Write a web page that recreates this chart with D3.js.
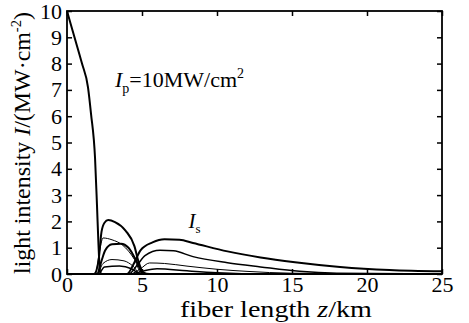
<!DOCTYPE html>
<html>
<head>
<meta charset="UTF-8">
<title>light intensity vs fiber length</title>
<script src="https://cdn.jsdelivr.net/npm/d3@7"></script>
<style>
	body { margin: 0; padding: 0; background: #fff; }
	text { font-family: "Times New Roman", "Liberation Serif", Times, serif; fill: #000; }
</style>
</head>
<body>
<script>
	// values: [z in km, intensity in MW/cm2]
	var xTicks = [0, 5, 10, 15, 20, 25],
		yTicks = [0, 1, 2, 3, 4, 5, 6, 7, 8, 9, 10];

	var pump = [[0,10],[0.5,9.0],[1.0,8.0],[1.4,7.1],[1.6,6.1],[1.87,4.4],[2.0,2.6],[2.1,1.1],[2.2,0.1],[2.3,0],[25,0]];

	// first order stokes, rising near 2 km
	var s1a = [[0,0],[1.8,0],[2.1,0.5],[2.3,1.6],[2.5,1.95],[2.75,2.05],[3.2,1.97],[3.9,1.65],[4.5,1.05],[4.75,0.5],[5.1,0.05],[5.5,0],[25,0]];
	var s1b = [[0,0],[1.9,0],[2.15,0.8],[2.4,1.37],[3.0,1.3],[3.7,1.1],[4.5,0.55],[5.0,0],[25,0]];
	var s1c = [[0,0],[2.0,0],[2.3,0.5],[2.55,0.9],[3.0,1.13],[3.6,1.15],[4.1,1.0],[4.65,0.47],[5.1,0],[25,0]];
	var s1d = [[0,0],[2.0,0],[2.4,0.4],[3.0,0.55],[3.8,0.5],[4.4,0.3],[4.9,0],[25,0]];
	var s1e = [[0,0],[2.1,0],[2.5,0.27],[3.5,0.3],[4.3,0.2],[4.9,0],[25,0]];

	// second order stokes, rising near 4.5 km
	var s2a = [[0,0],[4.0,0],[4.5,0.45],[4.9,0.9],[5.7,1.2],[6.5,1.32],[7.5,1.3],[8.4,1.18],[10.7,0.86],[12.9,0.63],[15.2,0.45],[18.2,0.27],[21.5,0.15],[25,0.1]];
	var s2b = [[0,0],[4.1,0],[4.7,0.35],[5.2,0.7],[6.2,0.9],[7.1,0.88],[8.4,0.66],[10.7,0.43],[12.9,0.27],[15.5,0.1],[18,0.03],[25,0]];
	var s2c = [[0,0],[4.2,0],[4.9,0.2],[5.5,0.42],[6.5,0.4],[8,0.3],[10,0.18],[12,0.1],[15,0.03],[25,0]];
	var s2d = [[0,0],[4.3,0],[5,0.1],[6,0.2],[8,0.12],[10,0.05],[13,0],[25,0]];

	var w = 469, h = 323;
	var plotL = 67, plotR = 442, plotT = 11, plotB = 274;

	var x = d3.scaleLinear().domain([0, 25]).range([plotL, plotR]);
	var y = d3.scaleLinear().domain([0, 10]).range([plotB, plotT]);

	var svg = d3.select("body").append("svg")
		.attr("width", w)
		.attr("height", h);

	svg.append("rect").attr("width", w).attr("height", h).attr("fill", "#fff");

	var line = d3.line()
		.x(function(d) { return x(d[0]); })
		.y(function(d) { return y(d[1]); })
		.curve(d3.curveMonotoneX);

	var curves = [
		{ d: pump, sw: 2 },
		{ d: s1a, sw: 2 },
		{ d: s1b, sw: 1 },
		{ d: s1c, sw: 2 },
		{ d: s1d, sw: 1 },
		{ d: s1e, sw: 1.5 },
		{ d: s2a, sw: 2 },
		{ d: s2b, sw: 1.5 },
		{ d: s2c, sw: 1 },
		{ d: s2d, sw: 1.5 }
	];

	svg.selectAll("path.curve")
		.data(curves)
		.enter().append("path")
		.attr("class", "curve")
		.attr("d", function(c) { return line(c.d); })
		.attr("fill", "none")
		.attr("stroke", "#000")
		.attr("stroke-width", function(c) { return c.sw; });

	// axes with inward ticks, matlab style box
	var gx = svg.append("g")
		.attr("transform", "translate(0," + plotB + ")")
		.call(d3.axisBottom(x).tickValues(xTicks).tickSize(-5).tickPadding(2).tickFormat(d3.format("d")));
	var gxt = svg.append("g")
		.attr("transform", "translate(0," + plotT + ")")
		.call(d3.axisTop(x).tickValues(xTicks).tickSize(-5).tickFormat(""));
	var gy = svg.append("g")
		.attr("transform", "translate(" + plotL + ",0)")
		.call(d3.axisLeft(y).tickValues(yTicks).tickSize(-5).tickPadding(5).tickFormat(d3.format("d")));
	var gyr = svg.append("g")
		.attr("transform", "translate(" + plotR + ",0)")
		.call(d3.axisRight(y).tickValues(yTicks).tickSize(-5).tickFormat(""));

	[gx, gxt, gy, gyr].forEach(function(g) {
		g.attr("font-family", null).attr("font-size", 22);
		g.select(".domain").remove();
		g.selectAll("line").attr("stroke", "#000").attr("stroke-width", 1.5);
		g.selectAll("text").attr("fill", "#000");
	});

	svg.append("rect")
		.attr("x", plotL).attr("y", plotT)
		.attr("width", plotR - plotL).attr("height", plotB - plotT)
		.attr("fill", "none")
		.attr("stroke", "#000")
		.attr("stroke-width", 1.8);

	// axis titles
	var xl = svg.append("text")
		.attr("x", 276).attr("y", 317)
		.attr("text-anchor", "middle")
		.attr("textLength", 192)
		.attr("lengthAdjust", "spacingAndGlyphs")
		.style("font-size", "23px");
	xl.append("tspan").text("fiber length ");
	xl.append("tspan").style("font-style", "italic").text("z");
	xl.append("tspan").text("/km");

	var yl = svg.append("text")
		.attr("transform", "translate(30,143) rotate(-90)")
		.attr("text-anchor", "middle")
		.attr("textLength", 262)
		.attr("lengthAdjust", "spacingAndGlyphs")
		.style("font-size", "23px");
	yl.append("tspan").text("light intensity ");
	yl.append("tspan").style("font-style", "italic").text("I");
	yl.append("tspan").text("/(MW·cm");
	yl.append("tspan").attr("dy", -9).style("font-size", "14px").text("-2");
	yl.append("tspan").attr("dy", 9).text(")");

	// annotations
	var ip = svg.append("text")
		.attr("x", x(3.2)).attr("y", 87)
		.style("font-size", "22px");
	ip.append("tspan").style("font-style", "italic").text("I");
	ip.append("tspan").attr("dy", 6).style("font-size", "14px").text("p");
	ip.append("tspan").attr("dy", -6).text("=10MW/cm");
	ip.append("tspan").attr("dy", -9).style("font-size", "14px").text("2");

	var is = svg.append("text")
		.attr("x", x(8.1)).attr("y", 228)
		.style("font-size", "21px");
	is.append("tspan").style("font-style", "italic").text("I");
	is.append("tspan").attr("dy", 5).style("font-size", "13px").text("s");
</script>
</body>
</html>
